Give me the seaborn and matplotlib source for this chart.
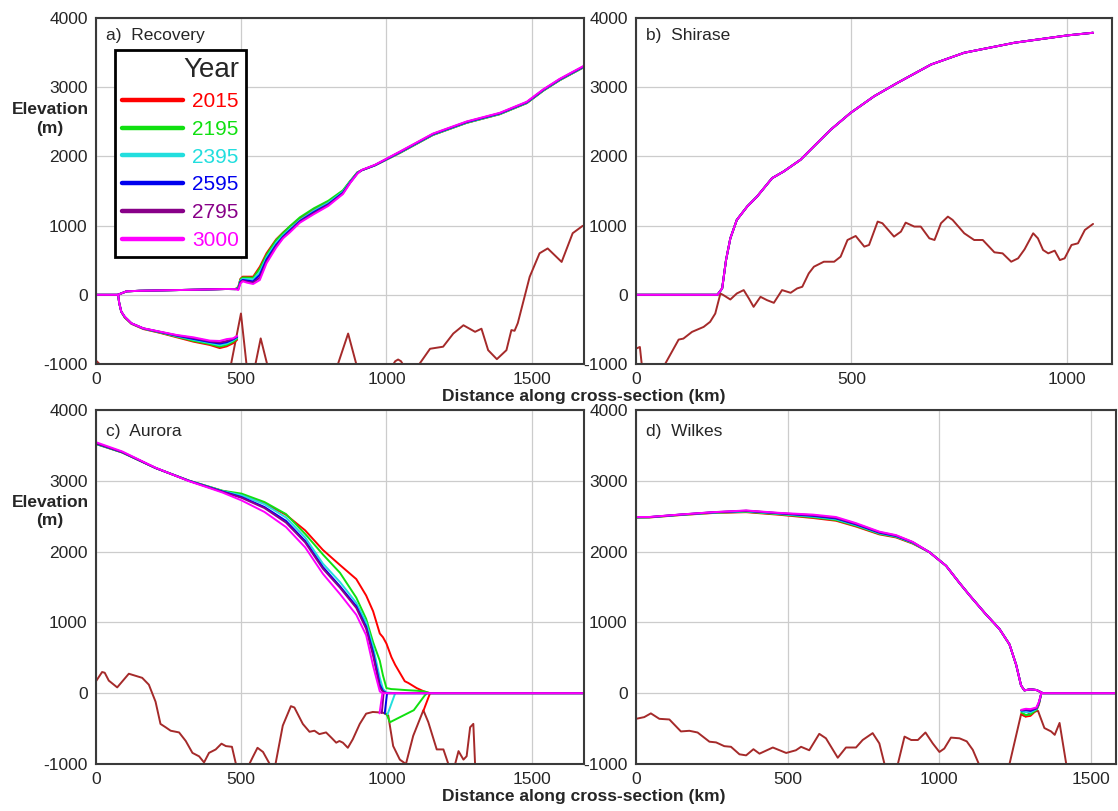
import matplotlib
matplotlib.use("Agg")
import matplotlib.pyplot as plt
from matplotlib.lines import Line2D
import numpy as np
import pandas as pd
import seaborn as sns

sns.set_style("whitegrid", {"grid.color": "#d0d0d0", "axes.edgecolor": "#3a3a3a"})
plt.rcParams["font.family"] = ["Liberation Sans", "DejaVu Sans"]
plt.rcParams["axes.unicode_minus"] = False

YEARS = ["2015", "2195", "2395", "2595", "2795", "3000"]
COLORS = ["#ff0000", "#10e010", "#22dede", "#0000ee", "#880088", "#ff00ff"]
BED_COLOR = "#a52a2a"

# ---- a) Recovery ----
A_SURF_X = [0, 75, 105, 150, 250, 350, 450, 480, 490, 497, 505, 520, 541, 564, 587, 620, 644, 667,
            702, 750, 800, 850, 875, 900, 915, 960, 1046, 1160, 1276, 1390, 1483, 1540, 1596, 1640, 1680]
A_SURF = [
    [0, 0, 50, 58, 66, 74, 84, 82, 117, 230, 262, 262, 262, 406, 600, 800, 900, 984,
     1105, 1230, 1340, 1500, 1640, 1770, 1800, 1870, 2050, 2310, 2485, 2610, 2770, 2950, 3100, 3200, 3290],
    [0, 0, 50, 58, 66, 74, 84, 82, 110, 220, 250, 250, 245, 380, 575, 790, 895, 990,
     1120, 1250, 1360, 1510, 1645, 1770, 1800, 1870, 2050, 2310, 2485, 2610, 2770, 2950, 3100, 3200, 3290],
    [0, 0, 50, 58, 66, 74, 84, 82, 100, 205, 230, 228, 222, 330, 540, 750, 860, 950,
     1080, 1215, 1330, 1490, 1635, 1765, 1800, 1870, 2055, 2315, 2490, 2615, 2775, 2955, 3105, 3205, 3295],
    [0, 0, 50, 58, 66, 74, 84, 82, 90, 190, 215, 205, 195, 290, 510, 720, 840, 930,
     1065, 1195, 1310, 1475, 1625, 1760, 1800, 1872, 2060, 2320, 2495, 2620, 2780, 2960, 3110, 3210, 3300],
    [0, 0, 50, 58, 66, 74, 84, 82, 80, 180, 205, 190, 175, 250, 480, 700, 825, 915,
     1055, 1180, 1300, 1465, 1620, 1755, 1802, 1875, 2065, 2325, 2500, 2625, 2785, 2965, 3115, 3215, 3305],
    [0, 0, 50, 58, 66, 74, 84, 82, 70, 160, 195, 175, 156, 214, 455, 680, 816, 900,
     1042, 1165, 1285, 1455, 1615, 1750, 1805, 1878, 2070, 2330, 2505, 2630, 2790, 2970, 3120, 3220, 3310],
]
A_BASE_X = [76, 80, 87, 99, 122, 163, 220, 277, 335, 392, 426, 450, 472, 486]
A_BASE = [
    [0, -120, -245, -330, -420, -495, -550, -613, -677, -725, -770, -745, -700, -650],
    [0, -120, -243, -325, -415, -490, -545, -605, -665, -712, -750, -725, -680, -635],
    [0, -120, -243, -322, -414, -488, -540, -597, -650, -697, -728, -705, -660, -620],
    [0, -120, -243, -320, -413, -486, -537, -590, -638, -683, -705, -685, -645, -610],
    [0, -120, -243, -318, -412, -485, -535, -585, -625, -672, -688, -668, -635, -600],
    [0, -120, -243, -316, -412, -484, -532, -580, -614, -662, -667, -640, -629, -595],
]
A_BED_X = [0, 12, 40, 150, 300, 420, 465, 499, 518, 535, 549, 567, 589, 620, 720, 800, 833, 868, 896,
           950, 1010, 1030, 1040, 1050, 1070, 1100, 1115, 1150, 1195, 1230, 1265, 1305, 1327, 1350,
           1380, 1413, 1430, 1441, 1452, 1493, 1527, 1555, 1603, 1641, 1675, 1680]
A_BED = [-950, -1000, -1150, -1350, -1400, -1300, -1000, -270, -1000, -1150, -1000, -630, -1000,
         -1200, -1350, -1200, -1000, -560, -1000, -1200, -1100, -960, -935, -960, -1100, -1050,
         -990, -780, -750, -560, -440, -535, -490, -800, -930, -800, -510, -520, -410, 260, 600,
         670, 475, 890, 995, 1000]

# ---- b) Shirase ----
B_SURF_X = [0, 189, 200, 209, 219, 234, 258, 281, 316, 343, 382, 413, 452, 498, 553, 607, 685,
            762, 879, 1002, 1061]
B_SURF = [0, 0, 92, 502, 816, 1082, 1275, 1420, 1686, 1783, 1952, 2145, 2386, 2628, 2870, 3063,
          3328, 3498, 3643, 3749, 3787]
B_BED_X = [0, 9, 15, 30, 50, 68, 99, 110, 130, 157, 172, 184, 196, 203, 219, 234, 250, 262, 273,
           289, 304, 320, 339, 359, 374, 386, 401, 413, 436, 460, 475, 491, 510, 530, 541, 561,
           572, 599, 615, 626, 646, 661, 681, 693, 708, 724, 735, 762, 785, 805, 832, 851, 871,
           887, 902, 922, 933, 945, 957, 972, 984, 995, 1011, 1026, 1042, 1061]
B_BED = [-778, -754, -1100, -1250, -1200, -995, -647, -633, -536, -464, -391, -271, 19, -5, -68,
         19, 68, -53, -174, -29, -77, -116, 68, 29, 92, 116, 309, 406, 478, 478, 551, 792, 850,
         696, 720, 1058, 1034, 841, 913, 1043, 986, 986, 816, 792, 1034, 1130, 1082, 889, 792,
         792, 614, 599, 478, 527, 657, 889, 816, 647, 599, 638, 502, 527, 720, 744, 937, 1024]

# ---- c) Aurora ----
C_SURF_X = [0, 90, 205, 320, 435, 501, 580, 654, 720, 781, 840, 896, 930, 954, 977, 988, 1000,
            1017, 1030, 1063, 1075, 1104, 1132, 1150, 1680]
C_SURF = [
    [3520, 3400, 3181, 3002, 2858, 2800, 2680, 2520, 2300, 2024, 1810, 1612, 1380, 1157, 843, 790,
     700, 510, 400, 169, 145, 72, 20, 0, 0],
    [3520, 3400, 3181, 3002, 2860, 2819, 2700, 2530, 2250, 1960, 1700, 1350, 1050, 720, 458, 250,
     72, 58, 55, 45, 42, 35, 24, 0, 0],
    [3525, 3403, 3181, 3002, 2855, 2795, 2670, 2482, 2200, 1831, 1570, 1277, 1000, 651, 217, 60,
     10, 5, 0, 0, 0, 0, 0, 0, 0],
    [3528, 3405, 3181, 3000, 2850, 2771, 2630, 2434, 2150, 1783, 1510, 1229, 940, 578, 120, 30,
     0, 0, 0, 0, 0, 0, 0, 0, 0],
    [3532, 3407, 3181, 2998, 2845, 2760, 2615, 2410, 2130, 1759, 1490, 1205, 910, 530, 82, 20,
     0, 0, 0, 0, 0, 0, 0, 0, 0],
    [3545, 3415, 3185, 2995, 2835, 2723, 2560, 2347, 2060, 1687, 1400, 1108, 820, 386, 24, 0,
     0, 0, 0, 0, 0, 0, 0, 0, 0],
]
C_BASE_X = [
    [1127, 1150],
    [1000, 1012, 1094, 1132, 1140],
    [1004, 1030],
    [994, 1002],
    [984, 990],
    [976, 986],
]
C_BASE = [
    [-250, 0],
    [-290, -410, -240, -30, 0],
    [-295, 0],
    [-285, 0],
    [-280, 0],
    [-285, 0],
]
C_BED_X = [0, 21, 30, 44, 73, 113, 159, 182, 205, 222, 240, 257, 286, 309, 332, 355, 372, 389,
           412, 432, 447, 468, 481, 510, 540, 556, 575, 598, 618, 643, 671, 683, 712, 735, 752,
           769, 792, 810, 827, 838, 850, 867, 884, 908, 930, 953, 988, 1006, 1023, 1046, 1067,
           1092, 1127, 1144, 1173, 1196, 1213, 1230, 1248, 1265, 1276, 1288, 1299, 1305, 1330,
           1450, 1680]
C_BED = [169, 299, 289, 178, 82, 275, 217, 120, -120, -434, -482, -530, -554, -675, -843, -892,
         -978, -843, -795, -713, -747, -757, -988, -1150, -900, -771, -830, -1000, -1000, -458,
         -183, -202, -434, -545, -530, -578, -554, -627, -699, -675, -699, -771, -651, -434,
         -289, -265, -275, -313, -746, -938, -1000, -602, -241, -409, -794, -794, -1000, -1100,
         -818, -938, -890, -481, -433, -1000, -1300, -1400, -1400]

# ---- d) Wilkes ----
D_SURF_X = [0, 44, 143, 253, 363, 473, 582, 659, 725, 802, 857, 912, 967, 1022, 1066, 1100, 1150,
            1198, 1231, 1253, 1269, 1280, 1300, 1320, 1341, 1585]
D_SURF = [
    [2480, 2482, 2515, 2545, 2557, 2520, 2475, 2436, 2354, 2243, 2200, 2113, 1992, 1799, 1558,
     1380, 1130, 906, 689, 400, 110, 40, 55, 45, 0, 0],
    [2482, 2484, 2517, 2548, 2563, 2527, 2485, 2446, 2364, 2251, 2207, 2119, 1992, 1799, 1558,
     1380, 1130, 906, 689, 400, 110, 40, 55, 45, 0, 0],
    [2484, 2486, 2519, 2551, 2569, 2533, 2495, 2457, 2374, 2259, 2214, 2124, 1992, 1799, 1558,
     1380, 1130, 906, 689, 400, 110, 40, 55, 45, 0, 0],
    [2486, 2487, 2521, 2554, 2575, 2540, 2505, 2468, 2384, 2267, 2220, 2130, 1992, 1799, 1558,
     1380, 1130, 906, 689, 400, 110, 40, 55, 45, 0, 0],
    [2488, 2488, 2522, 2556, 2578, 2543, 2514, 2478, 2393, 2275, 2227, 2134, 1992, 1799, 1558,
     1380, 1130, 906, 689, 400, 110, 40, 55, 45, 0, 0],
    [2489, 2489, 2523, 2557, 2581, 2547, 2523, 2489, 2402, 2282, 2233, 2137, 1992, 1799, 1558,
     1380, 1130, 906, 689, 400, 110, 40, 55, 45, 0, 0],
]
D_BASE_X = [1270, 1285, 1300, 1320, 1328, 1336]
D_BASE = [
    [-290, -330, -320, -240, -160, 0],
    [-270, -310, -300, -235, -150, 0],
    [-255, -270, -270, -225, -140, 0],
    [-245, -240, -250, -215, -135, 0],
    [-240, -230, -235, -210, -130, 0],
    [-235, -220, -225, -200, -120, 0],
]
D_BED_X = [0, 27, 49, 77, 110, 148, 176, 203, 242, 264, 291, 313, 341, 363, 387, 407, 451, 495,
           527, 544, 571, 604, 626, 665, 692, 725, 747, 780, 802, 819, 840, 863, 885, 907, 929,
           954, 978, 1000, 1016, 1038, 1066, 1090, 1110, 1130, 1180, 1231, 1269, 1284, 1300,
           1325, 1346, 1368, 1380, 1396, 1418, 1460, 1585]
D_BED = [-362, -338, -285, -362, -371, -540, -531, -555, -685, -695, -748, -757, -863, -878,
         -791, -854, -767, -844, -806, -757, -806, -574, -637, -912, -767, -767, -661, -564,
         -709, -1000, -1150, -1000, -613, -661, -661, -555, -709, -830, -782, -627, -637, -680,
         -800, -1000, -1200, -1000, -300, -330, -270, -250, -492, -540, -588, -420, -1000,
         -1250, -1350]


def year_frame(surf_x, surf, base_x, base):
    rows = []
    for i, yr in enumerate(YEARS):
        s = surf[i] if isinstance(surf[0], list) else surf
        for x, y in zip(surf_x, s):
            rows.append((yr, "surf", x, y))
        if base is not None:
            bx = base_x[i] if isinstance(base_x[0], list) else base_x
            for x, y in zip(bx, base[i]):
                rows.append((yr, "base", x, y))
    return pd.DataFrame(rows, columns=["year", "seg", "km", "elev"])


PANELS = [
    ("a)  Recovery", year_frame(A_SURF_X, A_SURF, A_BASE_X, A_BASE), A_BED_X, A_BED, 1680,
     [0, 500, 1000, 1500], [96, 18, 488, 346]),
    ("b)  Shirase", year_frame(B_SURF_X, B_SURF, None, None), B_BED_X, B_BED, 1105,
     [0, 500, 1000], [636, 18, 476, 346]),
    ("c)  Aurora", year_frame(C_SURF_X, C_SURF, C_BASE_X, C_BASE), C_BED_X, C_BED, 1680,
     [0, 500, 1000, 1500], [96, 410, 488, 354]),
    ("d)  Wilkes", year_frame(D_SURF_X, D_SURF, D_BASE_X, D_BASE), D_BED_X, D_BED, 1582,
     [0, 500, 1000, 1500], [636, 410, 480, 354]),
]

W, H = 1118, 811
fig = plt.figure(figsize=(W / 100, H / 100), dpi=100)
axes = []
for title, df, bed_x, bed_y, xmax, xticks, (px, py, pw, ph) in PANELS:
    ax = fig.add_axes([px / W, 1 - (py + ph) / H, pw / W, ph / H])
    bed = pd.DataFrame({"km": bed_x, "elev": bed_y})
    sns.lineplot(data=bed, x="km", y="elev", color=BED_COLOR, lw=1.4, sort=False,
                 estimator=None, ax=ax)
    sns.lineplot(data=df, x="km", y="elev", hue="year", units="seg", estimator=None,
                 sort=False, hue_order=YEARS, palette=COLORS, lw=1.4, legend=False, ax=ax)
    ax.set_xlim(0, xmax)
    ax.set_ylim(-1000, 4000)
    ax.set_xticks(xticks)
    ax.set_yticks([-1000, 0, 1000, 2000, 3000, 4000])
    ax.set_xlabel("")
    ax.set_ylabel("")
    ax.tick_params(labelsize=12.5, length=3, pad=3, color="#777777")
    ax.grid(True, color="#cccccc", lw=0.9)
    for sp in ax.spines.values():
        sp.set_color("#3a3a3a")
        sp.set_linewidth(1.5)
    ax.text(0.02, 0.948 if py < 100 else 0.938, title, transform=ax.transAxes, fontsize=12.5,
            ha="left", va="center")
    axes.append(ax)

# legend in panel a
handles = [Line2D([], [], color=c, lw=3.2, solid_capstyle="round") for c in COLORS]
leg = axes[0].legend(handles, YEARS, title="Year", loc="upper left",
                     bbox_to_anchor=(0.039, 0.907), frameon=True, fancybox=False,
                     edgecolor="black", framealpha=1, labelcolor=COLORS, alignment="right",
                     fontsize=15, title_fontsize=20, handlelength=2.9, labelspacing=0.42,
                     borderaxespad=0, handletextpad=0.45, borderpad=0.35)
leg.get_frame().set_linewidth(2)

for yc in (119, 511):
    fig.text(50 / W, 1 - yc / H, "Elevation\n(m)", ha="center", va="center",
             fontsize=12.5, fontweight="bold", linespacing=1.25)
for yc in (396, 797):
    fig.text(584 / W, 1 - yc / H, "Distance along cross-section (km)", ha="center",
             va="center", fontsize=12.5, fontweight="bold")

fig.savefig("out.png", dpi=100)
